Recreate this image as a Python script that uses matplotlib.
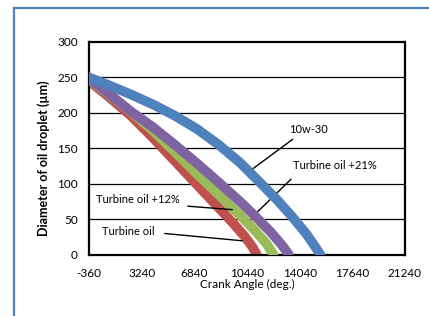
import matplotlib
matplotlib.use("Agg")
import matplotlib.pyplot as plt
from matplotlib.lines import Line2D

plt.rcParams["font.family"] = ["Lato", "DejaVu Sans"]
plt.rcParams["axes.unicode_minus"] = False

# values
crank_red = [-360, 1000, 2500, 4000, 5500, 7000, 8500, 9500, 10300, 10800, 11100]
diam_red = [245, 222.5, 196, 165, 132, 99, 66, 44, 25, 11, 0]

crank_green = [-360, 1000, 2500, 4000, 5500, 7000, 8500, 10000, 11000, 11800, 12250]
diam_green = [247, 226, 201.5, 175, 145, 114, 84.5, 54.5, 33.5, 14.5, 0]

crank_purple = [-360, 1000, 2500, 4000, 5500, 7000, 8500, 10000, 11000, 12000, 12800, 13300]
diam_purple = [248, 227, 202, 180, 155, 129, 102, 74, 54, 33, 14, 0]

crank_blue = [-360, 1000, 2500, 4000, 5500, 7000, 8500, 10000, 11500, 12500, 13500, 14500, 15000, 15450]
diam_blue = [250, 239, 226, 212, 196, 177.5, 155, 129, 98, 77, 54, 29, 14, 0]

x_ticks = [-360, 3240, 6840, 10440, 14040, 17640, 21240]
y_ticks = [0, 50, 100, 150, 200, 250, 300]

fig = plt.figure(figsize=(4.29, 3.16), dpi=100)
ax = fig.add_axes([89 / 429, 1 - 254.5 / 316, 316 / 429, 212.5 / 316])

# outer blue frame (only left and top visible)
fig.add_artist(Line2D([14 / 429, 14 / 429], [0, 1 - 7.5 / 316], color="#4f81bd", lw=1.6))
fig.add_artist(Line2D([14 / 429, 1], [1 - 7.5 / 316, 1 - 7.5 / 316], color="#4f81bd", lw=1.6))

for y in y_ticks[1:-1]:
    ax.axhline(y, color="black", lw=0.9, zorder=1)

lw = 7
ax.plot(crank_red, diam_red, color="#c0504d", lw=lw, solid_capstyle="round", zorder=2)
ax.plot(crank_green, diam_green, color="#9bbb59", lw=lw, solid_capstyle="round", zorder=3)
ax.plot(crank_purple, diam_purple, color="#8064a2", lw=lw, solid_capstyle="round", zorder=4)
ax.plot(crank_blue, diam_blue, color="#4f81bd", lw=lw, solid_capstyle="round", zorder=5)

ax.set_xlim(-360, 21240)
ax.set_ylim(0, 300)
ax.set_xticks(x_ticks)
ax.set_yticks(y_ticks)
ax.tick_params(length=0, labelsize=8.5)
ax.tick_params(axis="x", pad=10)
ax.tick_params(axis="y", pad=8)
for s in ax.spines.values():
    s.set_linewidth(1.6)
    s.set_color("black")

ax.set_xlabel("Crank Angle (deg.)", fontsize=8.5, labelpad=0)
ax.set_ylabel("Diameter of oil droplet (µm)", fontsize=9, fontweight="bold")
ax.yaxis.set_label_coords(-0.123, 0.454)

ann = dict(arrowprops=dict(arrowstyle="-", color="black", lw=1.0))
ax.annotate("", xy=(10440, 115), xytext=(13720, 165), **ann)
ax.text(14609, 176, "10w-30", fontsize=8, ha="center", va="center")
ax.annotate("", xy=(10850, 54), xytext=(13583, 109), **ann)
ax.text(16454, 126, "Turbine oil +21%", fontsize=8, ha="center", va="center")
ax.annotate("", xy=(9620, 63), xytext=(6202, 68.5), **ann)
ax.text(2989, 77, "Turbine oil +12%", fontsize=8, ha="center", va="center")
ax.annotate("", xy=(10300, 19), xytext=(4630, 30), **ann)
ax.text(2306, 32, "Turbine oil", fontsize=8, ha="center", va="center")

fig.savefig("out.png", dpi=100)
